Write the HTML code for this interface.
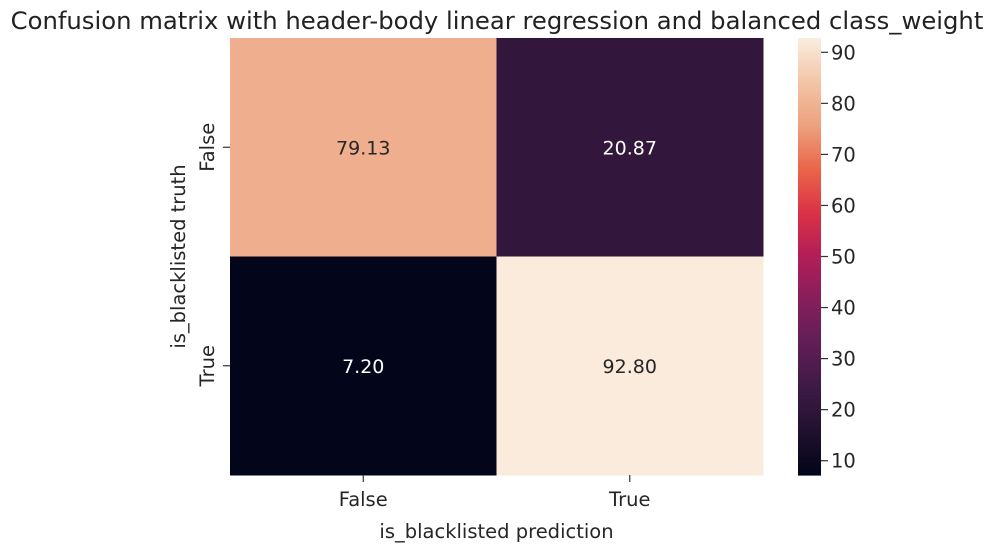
<!DOCTYPE html>
<html><head><meta charset="utf-8"><style>
body{margin:0;background:#fff;}
svg text{font-family:"DejaVu Sans","Liberation Sans",sans-serif;}
</style></head><body>
<svg id="c" width="1006" height="554" xmlns="http://www.w3.org/2000/svg"></svg>
<script>
const xCategories=["False","True"];
const yCategories=["False","True"];
const cellValues=[[79.13,20.87],[7.20,92.80]];
const cbTicks=[10,20,30,40,50,60,70,80,90];
const vmin=7.20, vmax=92.80;
const svg=document.getElementById('c');
const NS='http://www.w3.org/2000/svg';
function mk(t,a,p){const e=document.createElementNS(NS,t);for(const k in a)e.setAttribute(k,a[k]);(p||svg).appendChild(e);return e;}
const stops=[[0,[3,5,26]],[0.1,[32,17,46]],[0.2,[62,26,70]],[0.3,[96,30,86]],[0.4,[133,31,92]],[0.5,[178,30,88]],[0.6,[218,49,70]],[0.7,[234,100,72]],[0.8,[236,160,125]],[0.9,[243,196,166]],[1,[250,235,221]]];
function cmap(t){t=Math.max(0,Math.min(1,t));for(let i=1;i<stops.length;i++){if(t<=stops[i][0]){const a=stops[i-1],b=stops[i];const f=(t-a[0])/(b[0]-a[0]);const c=a[1].map((v,j)=>Math.round(v+(b[1][j]-v)*f));return `rgb(${c})`;}}return 'rgb(250,235,221)';}
const L=230,R=763,T=38,B=475;
const cw=(R-L)/xCategories.length, ch=(B-T)/yCategories.length;
const xPos=i=>L+i*cw, yPos=j=>T+j*ch;
const title=mk('text',{x:497,y:29,'text-anchor':'middle','font-size':24.3,fill:'#222'});title.textContent="Confusion matrix with header-body linear regression and balanced class_weight";


for(let j=0;j<yCategories.length;j++)for(let i=0;i<xCategories.length;i++){
 const v=cellValues[j][i], t=(v-vmin)/(vmax-vmin);
 const r=mk('rect',{x:xPos(i),y:yPos(j),width:cw+0.5,height:ch+0.5,fill:cmap(t)});
 
 
 const tx=mk('text',{x:xPos(i)+cw/2,y:yPos(j)+ch/2+7,'text-anchor':'middle','font-size':19,fill:t>0.6?'#262626':'#fff'});
 tx.textContent=v.toFixed(2);
 
 
}
xCategories.forEach((c,i)=>{const x=xPos(i)+cw/2;mk('line',{x1:x,x2:x,y1:B,y2:B+7,stroke:'#333','stroke-width':1.2});
 const t=mk('text',{x:x,y:B+31,'text-anchor':'middle','font-size':19.5,fill:'#262626'});t.textContent=c;
 
 });
yCategories.forEach((c,j)=>{const y=yPos(j)+ch/2;mk('line',{x1:L-7,x2:L,y1:y,y2:y,stroke:'#333','stroke-width':1.2});
 const t=mk('text',{x:0,y:0,'text-anchor':'middle','font-size':19.5,fill:'#262626',transform:`translate(${L-16},${y}) rotate(-90)`});t.textContent=c;
 
 });
const xt=mk('text',{x:(L+R)/2,y:538,'text-anchor':'middle','font-size':19.5,fill:'#262626'});xt.textContent='is_blacklisted prediction';


const yt=mk('text',{x:0,y:0,'text-anchor':'middle','font-size':19.5,fill:'#262626',transform:`translate(185,${(T+B)/2}) rotate(-90)`});yt.textContent='is_blacklisted truth';


const CL=798,CR=821;
const cy=v=>B-(v-vmin)/(vmax-vmin)*(B-T);
const g=mk('g',{});


const N=200;
for(let k=0;k<N;k++){const v0=vmin+(vmax-vmin)*k/N,v1=vmin+(vmax-vmin)*(k+1)/N;
 mk('rect',{x:CL,y:cy(v1),width:CR-CL,height:cy(v0)-cy(v1)+0.6,fill:cmap(k/(N-1))},g);}
cbTicks.forEach(v=>{const y=cy(v);mk('line',{x1:CR,x2:CR+7,y1:y,y2:y,stroke:'#333','stroke-width':1.2});
 const t=mk('text',{x:CR+10,y:y+7,'font-size':19.5,fill:'#262626'});t.textContent=v;
 
 });
</script>
</body></html>
